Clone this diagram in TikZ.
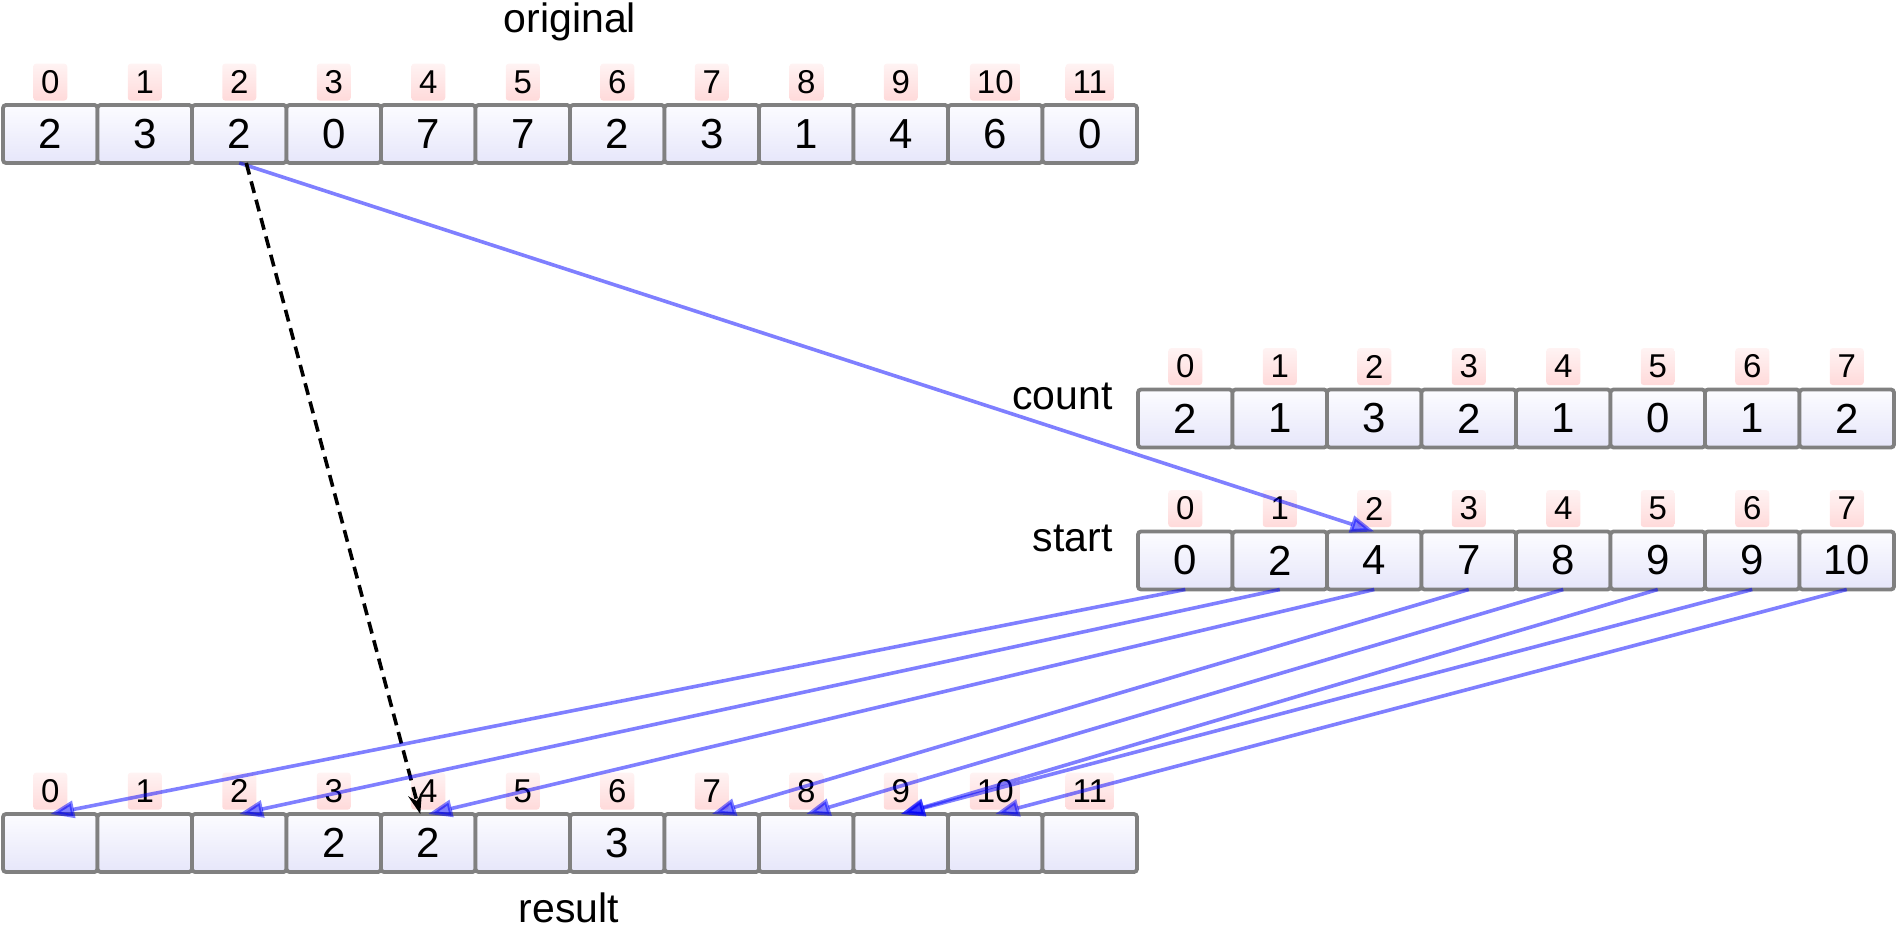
\documentclass[tikz,border=0pt]{standalone}
\usepackage{fontspec}
\setmainfont{Liberation Sans}
\usetikzlibrary{positioning,arrows.meta}
\definecolor{celltop}{RGB}{252,252,255}
\definecolor{cellbot}{RGB}{230,230,250}
\definecolor{idxtop}{RGB}{255,243,243}
\definecolor{idxbot}{RGB}{255,218,218}
\definecolor{cellline}{RGB}{128,128,128}
\tikzset{
  cell/.style={draw=cellline,line width=1.9pt,rounded corners=1.5pt,top color=celltop,bottom color=cellbot,
    minimum width=47.25pt,minimum height=29pt,inner sep=0pt,outer sep=0pt,font=\fontsize{21pt}{24pt}\selectfont},
  idx/.style={rounded corners=1.5pt,top color=idxtop,bottom color=idxbot,minimum width=17pt,minimum height=18.5pt,
    inner xsep=3.5pt,inner ysep=0pt,font=\fontsize{16.5pt}{18pt}\selectfont},
  lbl/.style={inner sep=0pt,font=\fontsize{20.5pt}{24pt}\selectfont},
  ptr/.style={draw=blue,line width=1.8pt,opacity=0.5,-{Triangle[length=12pt,width=8.5pt]}},
  jump/.style={draw=black,line width=1.8pt,dash pattern=on 6pt off 3.5pt,-{Stealth[length=10pt,width=7pt]}}
}
% name, left x, centre y, values
\newcommand{\cells}[4]{
  \foreach \v [count=\i from 0] in {#4} {
    \node[cell] (#1\i) at ({#2+(\i+0.5)*94.5},#3) {\v};
    \node[idx,above=2pt of #1\i] (#1i\i) {\i};
  }
}
\begin{document}
\begin{tikzpicture}[x=0.5pt,y=-0.5pt]
  \useasboundingbox (0,0) rectangle (1896,930);
  \cells{o}{3}{134}{2,3,2,0,7,7,2,3,1,4,6,0}
  \cells{c}{1138}{418.5}{2,1,3,2,1,0,1,2}
  \cells{s}{1138}{560.5}{0,2,4,7,8,9,9,10}
  \cells{r}{3}{843}{{},{},{},2,2,{},3,{},{},{},{},{}}
  \node[lbl,anchor=base] (origlbl) at (570,33) {original};
  \node[lbl,anchor=base east] (countlbl) at (1113,410) {count};
  \node[lbl,anchor=base east] (startlbl) at (1113,552) {start};
  \node[lbl,anchor=base] (reslbl) at (569,922) {result};
  % value -> start slot, start slot -> result slot
  \draw[ptr] (o2.south) -- (s2.north);
  \draw[jump] ([xshift=3.5pt]o2.south) -- ([xshift=-4pt]r4.north);
  \foreach \a/\b in {0/0,1/2,2/4,3/7,4/8,5/9,6/9,7/10}
    \draw[ptr] (s\a.south) -- (r\b.north);
\end{tikzpicture}
\end{document}
